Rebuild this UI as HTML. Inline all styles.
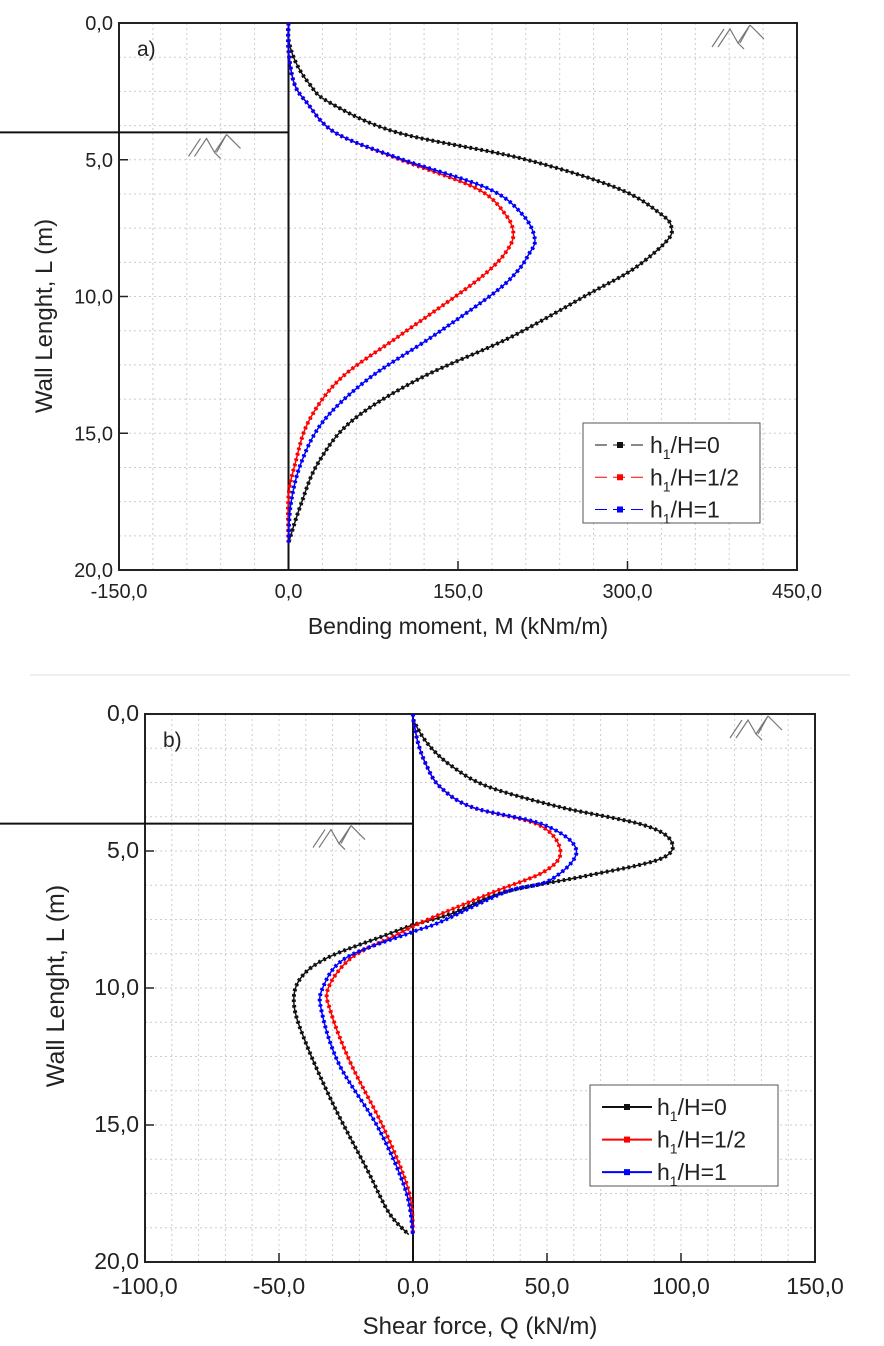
<!DOCTYPE html>
<html><head><meta charset="utf-8"><style>
body{margin:0;background:#fff;}
svg{display:block;font-family:"Liberation Sans",Arial,sans-serif;}
</style></head><body>
<svg id="c" width="884" height="1346" viewBox="0 0 884 1346" xmlns="http://www.w3.org/2000/svg"></svg>
<script>
// Panel a: bending moment
const depthABlack = [0,0.6,1.4,2.2,2.9,4.0,4.95,6.04,7.0,7.5,8.0,9.0,9.9,11.5,13.0,14.55,16.1,17.6,19];
const mBlack      = [0,0,6,18,36,96,206,291,330,339,334,305,266,196,116,56,26,11,0];
const depthARed   = [0,1.0,2.2,2.9,4.0,4.95,6.04,7.0,7.74,8.4,9.1,9.9,11.5,13.0,14.55,16.1,17.3,19];
const mRed        = [0,0,5,16,41,96,166,192,199,192,176,151,96,46,18,6,0,0];
const depthABlue  = [0,1.0,2.2,2.9,4.0,4.95,6.04,7.0,7.9,8.5,9.1,9.9,11.5,13.0,14.55,16.1,17.6,19];
const mBlue       = [0,0,5,16,41,98,176,207,218,212,202,181,126,71,31,11,2,0];
const xTicksA = [-150,0,150,300,450];
// Panel b: shear force
const depthBBlack = [0,0.3,1.1,1.87,2.65,3.4,4.05,4.67,5.3,5.9,6.5,7.3,7.7,8.1,8.9,9.65,10.6,12.0,14.3,16.65,18.2,19];
const qBlack      = [0,0.5,5.6,14,28,55,86,96.5,92,65,34,14,0,-11,-32,-42,-44.4,-40,-29.5,-17,-9,-1.6];
const depthBRed   = [0,0.3,1.1,1.87,2.65,3.4,4.05,5.0,5.75,6.5,7.5,8.1,8.9,10.0,10.9,12.8,15.1,17.4,19];
const qRed        = [0,0.3,2,5,10,22,47,55,49,30,5.6,-7,-23,-31.6,-30.6,-23,-11,-1.6,0];
const depthBBlue  = [0,0.3,1.1,1.87,2.65,3.4,4.05,5.0,6.07,6.5,7.6,7.95,8.9,10.0,10.9,12.8,15.1,17.4,19];
const qBlue       = [0,0.3,2,5,10,22,49,61,51,34.5,10,0,-25,-33.7,-34,-27.5,-13,-2.7,0];
const xTicksB = [-100,-50,0,50,100,150];
const yTicks = [0,5,10,15,20];
const seriesNames = ["h1/H=0","h1/H=1/2","h1/H=1"];

const NS="http://www.w3.org/2000/svg";
const svg=document.getElementById('c');
function mk(tag,attrs,parent){const e=document.createElementNS(NS,tag);for(const k in attrs)e.setAttribute(k,attrs[k]);(parent||svg).appendChild(e);return e;}
function smooth(pts){let d=`M${pts[0][0]},${pts[0][1]}`;for(let i=0;i<pts.length-1;i++){const p0=pts[i-1]||pts[i],p1=pts[i],p2=pts[i+1],p3=pts[i+2]||p2;const c1=[p1[0]+(p2[0]-p0[0])/6,p1[1]+(p2[1]-p0[1])/6],c2=[p2[0]-(p3[0]-p1[0])/6,p2[1]-(p3[1]-p1[1])/6];d+=`C${c1[0]},${c1[1]} ${c2[0]},${c2[1]} ${p2[0]},${p2[1]}`;}return d;}
function hatch(g,x,y){const d=`M${x},${y+22}l12,-18M${x+6},${y+22}l12,-18l8,14l12,-18M${x+26},${y+18}l6,6M${x+38},${y}l14,14M${x+38},${y}l-10,18`;const p=mk('path',{d:d,stroke:'#777',fill:'none','stroke-width':1.2},g);}

function panel(cfg){
 const g=mk('g',{});
 const {L,R,T,B,xmin,xmax}=cfg;
 const xs=v=>L+(v-xmin)/(xmax-xmin)*(R-L);
 const ys=v=>T+v/20*(B-T);
 for(let v=xmin+cfg.minor;v<xmax;v+=cfg.minor){const l=mk('line',{x1:xs(v),x2:xs(v),y1:T,y2:B,stroke:'#ccc','stroke-dasharray':'2 3','stroke-width':1},g);}
 for(let v=1.25;v<20;v+=1.25){const l=mk('line',{x1:L,x2:R,y1:ys(v),y2:ys(v),stroke:'#ccc','stroke-dasharray':'2 3','stroke-width':1},g);}
 const fr=mk('rect',{x:L,y:T,width:R-L,height:B-T,fill:'none',stroke:'#222','stroke-width':2},g);
 cfg.xt.forEach(v=>{const t=mk('line',{x1:xs(v),x2:xs(v),y1:B,y2:B-9,stroke:'#222','stroke-width':1.5},g);
  const tx=mk('text',{x:xs(v),y:B+cfg.xlo,'text-anchor':'middle','font-size':cfg.fs,fill:'#222'},g);tx.textContent=v.toFixed(1).replace('.',',');});
 yTicks.forEach(v=>{const t=mk('line',{x1:L,x2:L+9,y1:ys(v),y2:ys(v),stroke:'#222','stroke-width':1.5},g);
  const tx=mk('text',{x:L-6,y:ys(v)+7,'text-anchor':'end','font-size':cfg.fs,fill:'#222'},g);tx.textContent=v.toFixed(1).replace('.',',');});
 const xt=mk('text',{x:(L+R)/2,y:B+cfg.xto,'text-anchor':'middle','font-size':cfg.tfs,fill:'#222'},g);xt.textContent=cfg.xtitle;
 const yt=mk('text',{x:0,y:0,'text-anchor':'middle','font-size':cfg.tfs+1,fill:'#222',transform:`translate(${cfg.ytx},${cfg.yty}) rotate(-90)`},g);yt.textContent='Wall Lenght, L (m)';
 const lb=mk('text',{x:L+18,y:T+33,'font-size':21,fill:'#222'},g);lb.textContent=cfg.label;
 const w=mk('line',{x1:xs(0),x2:xs(0),y1:T,y2:B,stroke:'#111','stroke-width':2},g);
 const ex=mk('line',{x1:0,x2:xs(0),y1:ys(4),y2:ys(4),stroke:'#111','stroke-width':2},g);
 hatch(g,xs(0)-100,ys(4)+2);hatch(g,R-85,T+2);
 const cols=['#111','#f00','#00f'];
 cfg.series.forEach((s,i)=>{
  const pts=s.x.map((v,j)=>[xs(v),ys(s.d[j])]);
  const p=mk('path',{d:smooth(pts),fill:'none',stroke:cols[i],'stroke-width':cfg.sw},g);
  const p2=mk('path',{d:smooth(pts),fill:'none',stroke:cols[i],'stroke-width':cfg.sw+2.5,'stroke-dasharray':'2.5 3'},g);
 });
 const lg=mk('g',{},g);
 const bx=mk('rect',{x:cfg.lx,y:cfg.ly,width:cfg.lw,height:cfg.lh,fill:'#fff',stroke:'#555','stroke-width':1},lg);
 seriesNames.forEach((n,i)=>{const yy=cfg.ly+22+i*cfg.lh/3.1;
  const e=mk('g',{},lg);
  mk('line',{x1:cfg.lx+12,x2:cfg.lx+62,y1:yy,y2:yy,stroke:cols[i],'stroke-width':cfg.legSw,'stroke-dasharray':cfg.legDash},e);
  mk('rect',{x:cfg.lx+34,y:yy-3,width:6,height:6,fill:cols[i]},e);
  const t=mk('text',{x:cfg.lx+67,y:yy+8,'font-size':23,fill:'#222'},e);
  t.innerHTML='h<tspan dy="6" font-size="14">1</tspan><tspan dy="-6">'+n.slice(2)+'</tspan>';});
}
panel({name:'panel-a-bending-moment',L:119,R:797,T:23,B:570,xmin:-150,xmax:450,minor:30,xt:xTicksA,fs:20,tfs:23,xlo:28,xto:64,yty:316,xtitle:'Bending moment, M (kNm/m)',ytx:52,label:'a)',sw:1.5,
 series:[{x:mBlack,d:depthABlack},{x:mRed,d:depthARed},{x:mBlue,d:depthABlue}],lx:583,ly:423,lw:177,lh:100,legSw:1,legDash:'12 6'});
panel({name:'panel-b-shear-force',L:145,R:815,T:714,B:1262,xmin:-100,xmax:150,minor:10,xt:xTicksB,fs:23,tfs:24,xlo:32,xto:72,yty:986,xtitle:'Shear force, Q (kN/m)',ytx:64,label:'b)',sw:1.5,
 series:[{x:qBlack,d:depthBBlack},{x:qRed,d:depthBRed},{x:qBlue,d:depthBBlue}],lx:590,ly:1085,lw:188,lh:101,legSw:2,legDash:'none'});
const sep=mk('line',{x1:30,x2:850,y1:675,y2:675,stroke:'#ddd','stroke-width':1});


</script>
</body></html>
